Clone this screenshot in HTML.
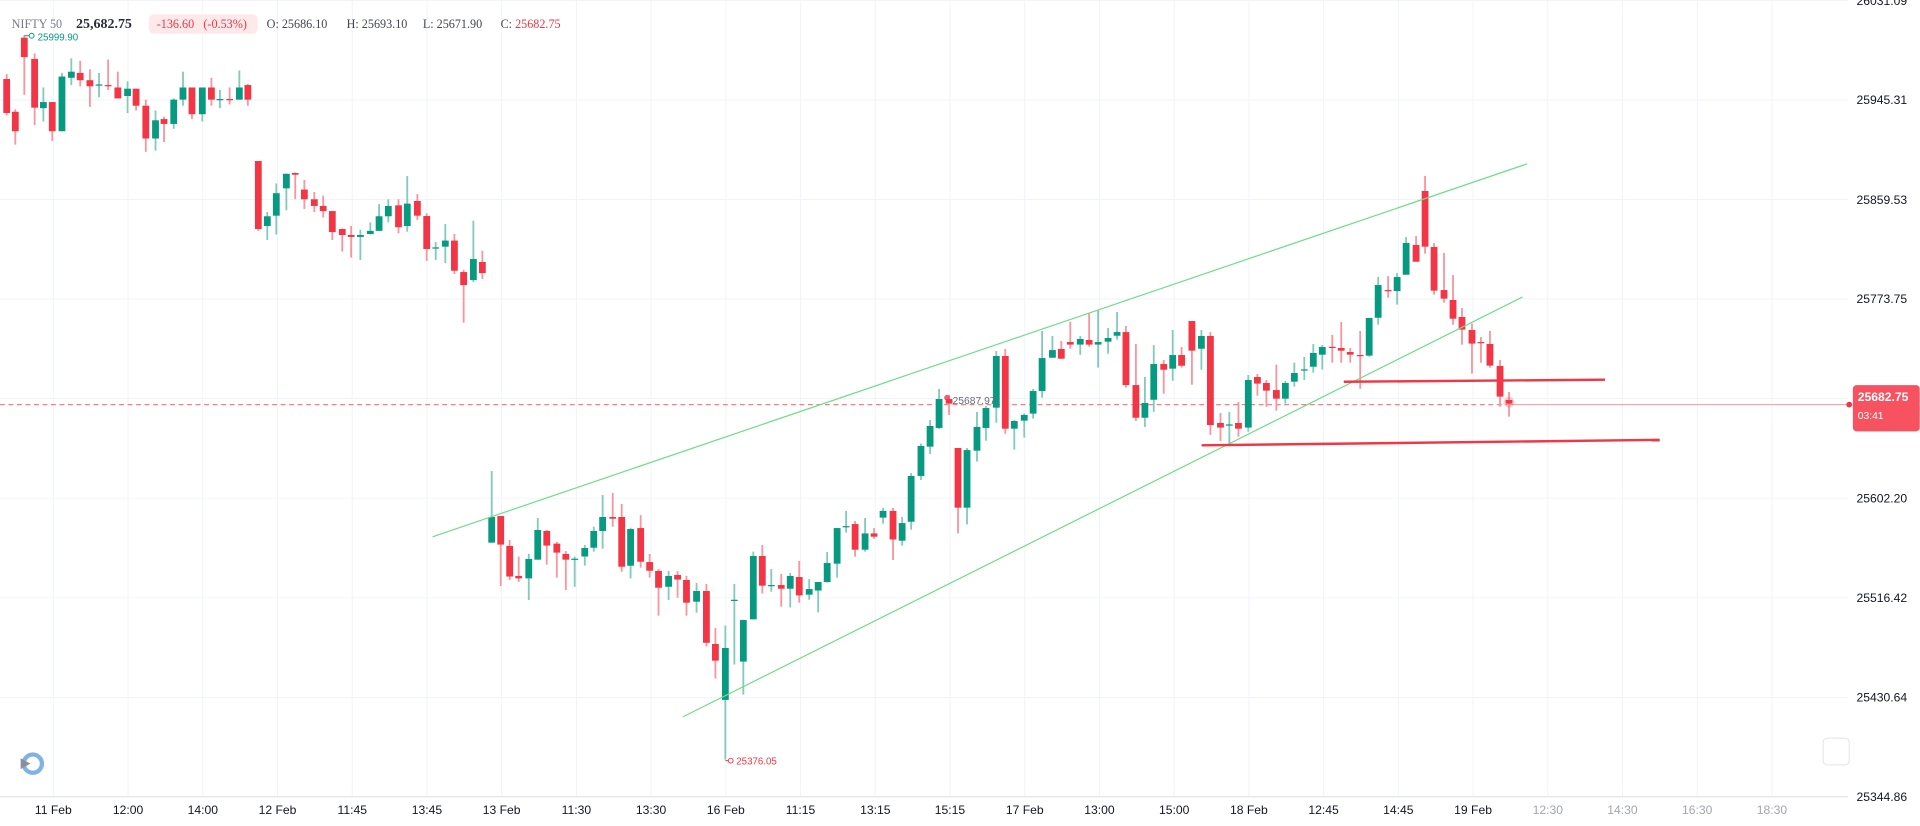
<!DOCTYPE html>
<html><head><meta charset="utf-8">
<style>
html,body{margin:0;padding:0;background:#fff;overflow:hidden}
svg{display:block}
.ax{font-family:"Liberation Sans",sans-serif;font-size:10px;fill:#131722}
.tx{font-family:"Liberation Sans",sans-serif;font-size:10px;fill:#131722;text-anchor:middle}
.fut{fill:#a3a6af}
.hd{font-family:"Liberation Serif",serif;font-size:10px;fill:#434651}
</style></head>
<body>
<svg id="c" width="1920" height="826" viewBox="0 0 1580.25 679.8" preserveAspectRatio="none" xmlns="http://www.w3.org/2000/svg">
<g stroke="#f0f3fa" stroke-width="0.8">
<line x1="0" y1="0.5" x2="1521" y2="0.5"/>
<line x1="0" y1="82.3" x2="1521" y2="82.3"/>
<line x1="0" y1="164.2" x2="1521" y2="164.2"/>
<line x1="0" y1="246" x2="1521" y2="246"/>
<line x1="0" y1="328" x2="1521" y2="328"/>
<line x1="0" y1="410" x2="1521" y2="410"/>
<line x1="0" y1="492" x2="1521" y2="492"/>
<line x1="0" y1="574" x2="1521" y2="574"/>
</g>
<g id="vg" stroke="#f0f3fa" stroke-width="0.8"></g>
<line x1="0" y1="655.7" x2="1521" y2="655.7" stroke="#e0e3eb" stroke-width="0.9"/>
<!-- price labels -->
<text class="ax" x="1528" y="4">26031.09</text>
<text class="ax" x="1528" y="85.8">25945.31</text>
<text class="ax" x="1528" y="167.7">25859.53</text>
<text class="ax" x="1528" y="249.5">25773.75</text>
<text class="ax" x="1528" y="413.5">25602.20</text>
<text class="ax" x="1528" y="495.5">25516.42</text>
<text class="ax" x="1528" y="577.5">25430.64</text>
<text class="ax" x="1528" y="659.2">25344.86</text>
<!-- time labels -->
<g>
<text class="tx" x="43.9" y="670">11 Feb</text>
<text class="tx" x="105.4" y="670">12:00</text>
<text class="tx" x="166.9" y="670">14:00</text>
<text class="tx" x="228.4" y="670">12 Feb</text>
<text class="tx" x="289.9" y="670">11:45</text>
<text class="tx" x="351.4" y="670">13:45</text>
<text class="tx" x="412.9" y="670">13 Feb</text>
<text class="tx" x="474.4" y="670">11:30</text>
<text class="tx" x="535.9" y="670">13:30</text>
<text class="tx" x="597.4" y="670">16 Feb</text>
<text class="tx" x="658.9" y="670">11:15</text>
<text class="tx" x="720.4" y="670">13:15</text>
<text class="tx" x="781.9" y="670">15:15</text>
<text class="tx" x="843.4" y="670">17 Feb</text>
<text class="tx" x="904.9" y="670">13:00</text>
<text class="tx" x="966.4" y="670">15:00</text>
<text class="tx" x="1027.9" y="670">18 Feb</text>
<text class="tx" x="1089.4" y="670">12:45</text>
<text class="tx" x="1150.9" y="670">14:45</text>
<text class="tx" x="1212.4" y="670">19 Feb</text>
<text class="tx fut" x="1273.9" y="670">12:30</text>
<text class="tx fut" x="1335.4" y="670">14:30</text>
<text class="tx fut" x="1396.9" y="670">16:30</text>
<text class="tx fut" x="1458.4" y="670">18:30</text>
</g>
<!-- current price line -->
<line x1="0" y1="333" x2="1240" y2="333" stroke="#f7525f" stroke-opacity="0.75" stroke-width="1" stroke-dasharray="4 3"/>
<line x1="1240" y1="333" x2="1522" y2="333" stroke="#f7525f" stroke-opacity="0.6" stroke-width="0.8"/>
<g id="cd"></g>
<!-- trend lines -->
<line x1="356" y1="441.8" x2="1257" y2="134.8" stroke="#6fdd8b" stroke-width="1"/>
<line x1="562" y1="590" x2="1253" y2="244.5" stroke="#6fdd8b" stroke-width="1"/>
<line x1="1106" y1="314.2" x2="1321" y2="312.5" stroke="#f23645" stroke-width="2"/>
<line x1="989" y1="366.5" x2="1366" y2="362" stroke="#f23645" stroke-width="2"/>
<!-- markers -->
<circle cx="1242" cy="331" r="4.5" fill="#f23645" fill-opacity="0.22"/>
<line x1="20" y1="29.4" x2="24" y2="29.4" stroke="#089981" stroke-width="0.8"/>
<circle cx="26" cy="29.4" r="2" fill="#fff" stroke="#089981" stroke-width="0.8"/>
<text x="31" y="33.5" font-family="Liberation Sans,sans-serif" font-size="8" fill="#089981">25999.90</text>
<line x1="597" y1="626" x2="599.5" y2="626" stroke="#f23645" stroke-width="0.8"/>
<circle cx="601.4" cy="626" r="2" fill="#fff" stroke="#f23645" stroke-width="0.8"/>
<text x="606" y="629" font-family="Liberation Sans,sans-serif" font-size="8" fill="#f23645">25376.05</text>
<circle cx="779.4" cy="327.3" r="2.3" fill="#f23645" fill-opacity="0.8"/>
<text x="784" y="332.5" font-family="Liberation Sans,sans-serif" font-size="8.5" fill="#6a6d78">25687.97</text>
<!-- price tag -->
<circle cx="1522" cy="333" r="2.4" fill="#f23645"/>
<rect x="1525" y="317" width="55" height="38" rx="3" fill="#f7525f"/>
<text x="1529" y="330" font-family="Liberation Sans,sans-serif" font-size="10" font-weight="bold" fill="#fff">25682.75</text>
<text x="1529" y="345" font-family="Liberation Sans,sans-serif" font-size="8.5" fill="#fff">03:41</text>
<!-- box bottom right -->
<rect x="1500.5" y="607.5" width="21.5" height="22" rx="3.5" fill="#fff" stroke="#e0e3eb" stroke-width="0.8"/>
<!-- undo icon -->
<circle cx="27" cy="628.5" r="7.5" fill="none" stroke="#7fb2e5" stroke-width="3.5"/>
<polygon points="17,624 25,628.5 17,633" fill="#8c8f99"/>
<!-- header -->
<text class="hd" x="9.6" y="23" fill="#787b86" style="fill:#787b86">NIFTY 50</text>
<text class="hd" x="62.6" y="23" style="font-size:11.5px;font-weight:bold;fill:#2a2e39">25,682.75</text>
<rect x="122.6" y="11.8" width="89.4" height="16" rx="4" fill="#fde8ea"/>
<text class="hd" x="129" y="23" style="fill:#f23645">-136.60</text>
<text class="hd" x="167.4" y="23" style="fill:#f23645">(-0.53%)</text>
<text class="hd" x="219.5" y="23">O: 25686.10</text>
<text class="hd" x="285.3" y="23">H: 25693.10</text>
<text class="hd" x="348" y="23">L: 25671.90</text>
<text class="hd" x="412" y="23">C: <tspan style="fill:#f23645">25682.75</tspan></text>
</svg>
<script>
(function(){
var NS="http://www.w3.org/2000/svg";
var vg=document.getElementById("vg");
for(var k=0;k<24;k++){var x=43.9+61.5*k;var l=document.createElementNS(NS,"line");
l.setAttribute("x1",x);l.setAttribute("x2",x);l.setAttribute("y1",0);l.setAttribute("y2",655.7);vg.appendChild(l);}
var D=[
[5.5,65,93,61,95,0],[12.6,92,108,90,119,0],[20,31,47,29,78,0],[28.5,48.5,88.6,44,103,0],[35.7,84,89,72,100,1],[43,84,108,84,116,0],[51,63,108,60,108,1],[58.7,59,64,48,70,1],[66,60,66,50,71,0],[74,66,71,57,88,0],[81.5,69.5,70.5,60,80,1],[89,70,71,49,74,0],[97,72,81,59,81,0],[105,73,79,67,93,1],[112,73,87,73,91,0],[120,87,114,82,125,0],[128,99,114,91,124,1],[135,98,102,96,117,0],[143,82,102,81,106,1],[150.6,72,82,59,87,1],[158,72,94,72,98,0],[166.5,72,94,72,100,1],[174,72,82,64,87,0],[181,81.5,82.5,74,89,1],[189,81.5,82.5,72,86,0],[197,72,82,58,82,1],[204,70,82,69,87,0],
[212.6,132.5,188.5,132.5,190,0],[220,178,186,174.5,197.5,1],[227.4,159,177.5,151,193,1],[235.7,143,155,143,173,1],[243,142.4,143.8,142,164,0],[250.5,156,164,148,172,0],[258.7,164,169.5,158,174.5,0],[266,169.5,173.7,161,179,0],[273.5,173.7,191,174,197.5,0],[281.7,188.5,193.4,188,207,0],[289,193.4,195,186,212,0],[296.6,193.4,195,189,214,1],[304.8,190,192.6,183,193,1],[312,178,190,168,190,1],[319.6,169.5,178,164,183,1],[328,169,187,164,192,0],[335.2,167.6,186,144.9,190.7,1],[343.5,165.4,177.5,159.7,181,0],[351.2,177.8,204.9,175.6,214.8,0],[358.6,203.6,204.6,199.2,214,1],[366.5,198,203,184.4,216.5,1],[374,198,222.8,192.6,225.5,0],[381.6,223.9,234.6,222,265.6,0],[389.6,213.2,230.5,181.6,232,1],[397,215.6,224.7,206.3,229.6,0],
[404.7,425.5,446.6,387.6,446.6,1],[412.1,424.7,448.2,424.7,482.3,0],[419.5,449.3,474.5,444.4,477.3,0],[426.9,474,476,458,478.9,0],[435.2,460,476,455.7,493.8,1],[442.6,436.2,460.6,426.3,460.6,1],[450,437,449,436.2,464.7,0],[458.3,447.4,454.8,446,475.4,0],[465.7,455.9,460.6,453.5,485.6,0],[473,459.8,460.8,458,482.9,1],[481.3,451,458,448.5,465.5,1],[488.7,437,450.8,433.5,454,1],[496,425.5,437,407.4,451.6,1],[504.3,425.5,426.9,405.7,433.5,0],[511.7,425.5,466.4,414.8,470.5,0],[519,435.4,465.6,434.3,476,1],[527.3,434.6,462.3,423.9,467.2,0],[534.7,462.6,469.7,455.9,475.4,0],[542,469.9,483.7,468.3,506.7,0],[550.3,474,482.9,469.9,493.8,1],[557.7,473.2,477,470,491.9,0],[565,477.3,496,474,506.7,0],[573.3,486.4,495.2,479.8,504.2,1],
[581.4,486.4,529,480.6,532,0],[588.8,530,543.7,516.8,558.5,0],[597,533.3,576,514.8,625.2,1],[604.4,493.6,494.6,480.6,546.9,1],[611.8,510.3,544.5,510,571.7,1],[620,457.6,509.7,454,509.7,1],[627.4,457.6,482,448.5,488.5,0],[634.8,481.5,482.5,468.3,487,1],[643,481.5,484.5,472.4,499.3,0],[650.4,474,484.5,471.6,500,1],[657.8,474.9,490,461.7,496,0],[666,484.8,489.4,476.6,493.6,1],[673.4,479,486,479,504,1],[680.8,463.4,479,454.3,479.5,1],[689,434.6,463.9,434.6,475.4,1],[696.4,433,434,420.5,438.4,1],[703.8,431.3,452.4,428.8,458.1,0],[712,439,452.4,426.4,454,1],[719.4,439,441.7,434.6,443.4,0],[726.8,420.5,426,418,431,1],[735,420.5,444,418,460.9,0],[742.5,430.5,445,425.5,449.1,1],[749.9,391.7,429.4,389.3,435.9,1],[758,367,391.7,365,395,1],[765.5,350.6,367.6,345.7,373.6,1],[772.9,328.4,352.2,320.2,353,1],[781.1,328.4,332.2,325,341.5,0],
[788.5,368.7,417.8,368.7,439,0],[795.9,370.4,417.8,368.7,431.6,1],[804.1,351.4,370.9,339,379.9,1],[811.5,335.8,352.2,334,362.7,1],[820,293,335.5,288.9,347.9,1],[827.4,293,352.8,287.2,357,0],[834.8,346.5,352.8,345.7,370.1,1],[843,341.5,346.2,340.2,360.2,1],[850.3,321.8,340.4,320.1,344.6,1],[857.7,294.7,321.8,272.4,327.3,1],[866.2,288.1,294.4,276.5,294.4,1],[873.5,287.2,295.2,280.7,295.2,0],[880.9,281.5,283.6,264.7,287,0],[889.1,279,283.6,276.5,292,1],[896.4,279.8,283.6,257.6,285.3,0],[903.8,281.5,283.6,255.1,302.6,1],[912,278.2,281.2,270,291.1,1],[919.4,273.3,276.3,256.8,279.5,1],[926.7,273.3,316.9,268.3,319,0],[934.9,316.9,343.8,283.1,346.5,0],[942.3,331.7,343.8,310.3,351.4,1],[949.6,299.6,329,284,338.9,1],[957.8,299.6,304.3,296.3,324,0],[965.2,292.2,303.4,271.6,313.3,1],[972.5,292.2,301,285.6,302.6,0],[981,264.2,288.6,264.2,316.6,0],[988.8,276.5,287,271.6,304.3,1],[996.2,276.5,349.8,273.3,357.9,0],
[1004.5,348.1,351.9,339.9,363,0],[1011.8,349.3,350.3,339,367,1],[1019.3,348.1,352.8,330.8,359.4,0],[1027.4,312.7,351.9,308.6,355.3,1],[1034.9,310.3,315.7,307.8,325.6,0],[1042.3,315.2,321.5,312.7,334.7,0],[1050.5,321,328.1,300.1,338,0],[1057.9,315.2,328.1,313.5,332.2,1],[1065.3,307,314.1,298.5,318.2,1],[1073.5,304,305,293.8,312.7,1],[1080.9,290.5,301.8,283.1,306.7,1],[1088.3,285.6,291.9,284,304.2,1],[1096.5,285.4,286.4,275.7,298.5,0],[1103.9,286.4,288.6,265,298.5,0],[1111.3,289.7,291.9,286.4,298.5,0],[1119.5,292.2,293.2,272.4,319.9,0],[1126.9,261.7,292.7,261.7,293.5,1],[1134.3,234.6,261.5,228,267.2,1],[1142.5,238.7,239.7,227.2,245,0],[1149.9,228,239.5,224.7,250.7,1],[1157.3,200,226.1,195.1,226.1,1],[1165.5,201.6,215.4,194.3,215.4,0],[1172.9,157.2,203,144.8,208.8,0],[1180.3,203.3,239.2,200,242.5,0],[1188.5,238.7,245.8,208.2,249.1,0],[1195.9,246.9,262.3,226.3,267.2,0],
[1203.3,260.9,271.3,253.5,283.7,0],[1211.5,271.6,282.8,266.4,307.5,0],[1218.9,281.5,282.5,277.4,298.5,0],[1226.3,283.1,300.9,272.4,302.6,0],[1234.6,301.2,326.4,296.3,334.7,0],[1242,329.2,332.2,322.6,342.9,0]
];
var g=document.getElementById("cd"),h="";
for(var i=0;i<D.length;i++){var d=D[i];var up=d[5]==1;
var bc=up?"#089981":"#f23645",wc=up?"#82cbbb":"#f7969e";
var bh=Math.max(d[2]-d[1],1);
h+='<rect x="'+(d[0]-0.75)+'" y="'+d[3]+'" width="1.5" height="'+(d[4]-d[3])+'" fill="'+wc+'"/>';
h+='<rect x="'+(d[0]-2.8)+'" y="'+d[1]+'" width="5.6" height="'+bh+'" fill="'+bc+'"/>';}
g.innerHTML=h;
})();
</script>
</body></html>
